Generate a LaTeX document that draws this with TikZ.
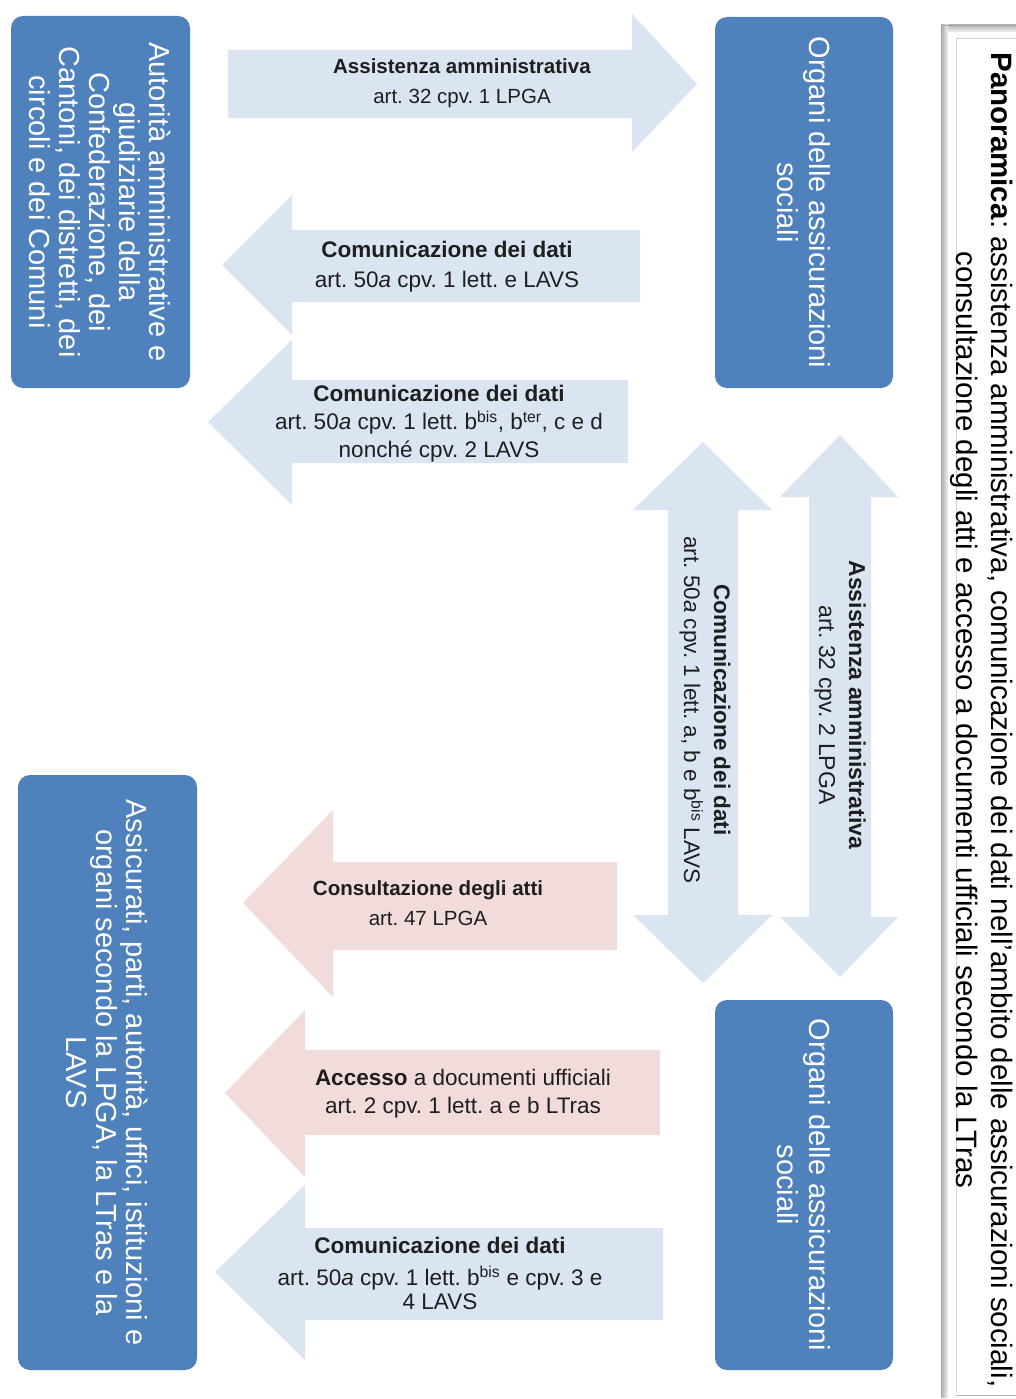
\documentclass[tikz,border=0pt]{standalone}
\usepackage{fontspec}
\setmainfont{Liberation Sans}
\frenchspacing
\definecolor{boxblue}{RGB}{79,129,189}
\definecolor{arrblue}{RGB}{219,229,241}
\definecolor{arrpink}{RGB}{242,220,219}
\definecolor{txt}{RGB}{30,30,30}
\newcommand{\ArrL}[9]{\fill[#1] (#2,#3) -- (#4,#5) -- (#4,#7) -- (#9,#7) -- (#9,#8) -- (#4,#8) -- (#4,#6) -- cycle;}
\tikzset{
  orgbox/.style={fill=boxblue, rounded corners=12pt, rotate=-90, align=center, text=white,
    font=\fontsize{29}{30}\selectfont, inner sep=0pt},
  atext/.style={align=center, text=txt, inner sep=0pt, font=\fontsize{20.5}{30}\selectfont},
  atextbig/.style={align=center, text=txt, inner sep=0pt, font=\fontsize{22.5}{28}\selectfont},
}
\begin{document}
\begin{tikzpicture}[x=1pt,y=-1pt]
\useasboundingbox[fill=white] (0,0) rectangle (1016,1399);

% ---- boxes
\node[orgbox, minimum width=372pt, minimum height=179pt] (auth) at (100.5,202)
  {Autorità amministrative e\\giudiziarie della\\Confederazione, dei\\Cantoni, dei distretti, dei\\circoli e dei Comuni};
\node[orgbox, minimum width=371pt, minimum height=178pt, font=\fontsize{29}{32}\selectfont] (org1) at (804,202.5)
  {Organi delle assicurazioni\\sociali};
\node[orgbox, minimum width=595pt, minimum height=179pt] (ass) at (107.5,1072.5)
  {Assicurati, parti, autorità, uffici, istituzioni e\\organi secondo la LPGA, la LTras e la\\LAVS};
\node[orgbox, minimum width=370pt, minimum height=178pt, font=\fontsize{29}{32}\selectfont] (org2) at (804,1185)
  {Organi delle assicurazioni\\sociali};

% ---- horizontal arrows
\fill[arrblue] (697,84) -- (632,14) -- (632,50) -- (228,50) -- (228,118) -- (632,118) -- (632,152) -- cycle;
\node[atext] (t1) at (462,83) {\textbf{Assistenza amministrativa}\\art. 32 cpv. 1 LPGA};

\ArrL{arrblue}{222}{265}{292}{195}{335}{230}{302}{640}
\node[atextbig, font=\fontsize{22.5}{30}\selectfont] (t2) at (447,267) {\textbf{Comunicazione dei dati}\\art. 50\textit{a} cpv. 1 lett. e LAVS};

\ArrL{arrblue}{208}{422}{292}{340}{505}{380}{463}{628}
\node[atextbig] (t3) at (439,424) {\textbf{Comunicazione dei dati}\\art. 50\textit{a} cpv. 1 lett. b\textsuperscript{bis}, b\textsuperscript{ter}, c e d\\nonché cpv. 2 LAVS};

\ArrL{arrpink}{243}{903}{333}{810}{997}{862}{950}{617}
\node[atext] (t4) at (428,903) {\textbf{Consultazione degli atti}\\art. 47 LPGA};

\ArrL{arrpink}{225}{1093}{305}{1010}{1177}{1050}{1135}{660}
\node[atextbig] (t5) at (463,1094) {\textbf{Accesso} a documenti ufficiali\\art. 2 cpv. 1 lett. a e b LTras};

\ArrL{arrblue}{215}{1272}{305}{1185}{1360}{1228}{1320}{663}
\node[atextbig, font=\fontsize{22.5}{24}\selectfont] (t6) at (440,1273) {\textbf{Comunicazione dei dati}\\[8pt]art. 50\textit{a} cpv. 1 lett. b\textsuperscript{bis} e cpv. 3 e\\4 LAVS};

% ---- vertical double arrows
\fill[arrblue] (703,442) -- (772,510) -- (738,510) -- (738,915) -- (772,915) -- (703,983)
  -- (633,915) -- (668,915) -- (668,510) -- (633,510) -- cycle;
\node[atextbig, rotate=-90, font=\fontsize{22.5}{30}\selectfont] (t7) at (705,710)
  {\textbf{Comunicazione dei dati}\\art. 50\textit{a} cpv. 1 lett. a, b e b\textsuperscript{bis} LAVS};
\fill[arrblue] (840,435) -- (898,497) -- (871,497) -- (871,917) -- (898,917) -- (840,977)
  -- (780,917) -- (809,917) -- (809,497) -- (780,497) -- cycle;
\node[atextbig, rotate=-90, font=\fontsize{23}{30}\selectfont] (t8) at (840,705)
  {\textbf{Assistenza amministrativa}\\art. 32 cpv. 2 LPGA};

% ---- title frame (bevelled)
\shade[left color=gray!65, right color=gray!10] (941,25) rectangle (948,1397);
\shade[top color=gray!55, bottom color=gray!10] (948,25) rectangle (1016,32);
\draw[gray!70, line width=0.8pt] (1016,25) -- (941,25) -- (941,1397);
\draw[gray!60, line width=0.8pt] (956,1395) -- (1016,1395);
\draw[gray!35, line width=0.6pt] (956,1393) -- (956,38) -- (1016,38);
\node[rotate=-90, align=center, text=black, inner sep=0pt, font=\fontsize{29.5}{35}\selectfont] (title) at (982,720)
  {\textbf{Panoramica}: assistenza amministrativa, comunicazione dei dati nell'ambito delle assicurazioni sociali,\\consultazione degli atti e accesso a documenti ufficiali secondo la LTras};
\end{tikzpicture}
\end{document}
